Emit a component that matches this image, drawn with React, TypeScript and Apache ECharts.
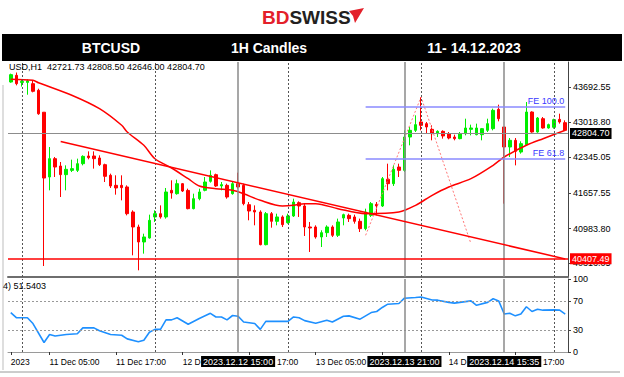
import React, { useEffect, useRef } from 'react';
import * as echarts from 'echarts';

// ---- candle data (H1 bars, first bar 10 Dec 22:00) ----
const opens = [43788,43916,43780,43780,43756,43630,43210,41970,42321,42180,
 42015,42097,42097,42225,42372,42372,42334,42206,42002,41810,
 41810,41779,41300,41013,40726,40803,41205,41268,41205,41715,
 41651,41842,41713,41364,41555,41715,41887,42015,41798,41810,
 41651,41842,41810,41440,41332,41300,40675,41268,41122,41205,
 41096,41224,41479,41415,41013,41013,40822,40905,41013,40854,
 41185,41236,41205,41122,40981,41236,41447,41415,41926,41842,
 42161,42097,42735,42863,43023,42991,42882,42799,42844,42799,
 42735,42704,42799,42882,42780,42780,42863,42895,43265,42927,
 42544,42672,42448,42589,43214,42831,43086,42908,42921,43073,
 43010];
const closes = [43929,43756,43800,43810,43610,43180,41950,42321,42161,42015,
 42117,42130,42225,42365,42340,42321,42206,41983,41798,41760,
 41766,41268,41013,40726,40822,41141,41268,41205,41683,41664,
 41842,41702,41364,41555,41683,41874,42002,41798,41824,41587,
 41842,41779,41460,41319,41300,40675,41268,41122,41205,41058,
 41224,41491,41415,41013,40994,40822,40905,41013,40854,41109,
 41249,41173,41122,40981,41300,41460,41415,41938,41842,42117,
 42097,42735,42863,42972,42959,42927,42799,42844,42755,42716,
 42704,42799,42908,42908,42908,42895,42991,43246,43086,42544,
 42672,42461,42608,43214,42831,43099,42908,42972,43067,43023,
 42863];
const lows = [43775,43724,43700,43545,43590,43160,40266,41715,41970,41587,
 41715,42065,42065,42193,42308,42130,42180,41874,41760,41632,
 41523,41236,40471,40184,40503,40790,41109,41173,41173,41555,
 41632,41683,41351,41351,41524,41696,41862,41779,41715,41555,
 41632,41747,41428,41141,41045,40662,40662,41000,41045,41013,
 41077,41205,41205,40841,40535,40790,40630,40822,40822,40822,
 41045,41109,41077,40917,40949,41205,41236,41396,41715,41798,
 41970,42065,42576,42831,42863,42799,42672,42735,42704,42691,
 42672,42691,42767,42767,42767,42672,42831,42863,43035,41460,
 42352,42193,42417,42576,42818,42818,42895,42895,42895,42991,
 42850];
const highs = [43948,43970,43830,43840,43820,43660,43210,42544,42353,42257,
 42193,42302,42321,42385,42461,42461,42385,42225,42034,42002,
 42002,41810,41332,41058,40885,41249,41332,41427,41760,41906,
 41919,41855,41747,41651,41747,41970,42097,42034,41874,41842,
 41874,42053,41842,41491,41427,41332,41300,41300,41268,41236,
 41268,41555,41504,41460,41109,41045,40950,41045,41045,41173,
 41268,41268,41249,41173,41364,41491,41491,41970,42225,42193,
 42225,42863,42927,43150,43501,43023,42959,42863,42863,42831,
 42780,42831,43086,42972,42991,42908,43086,43278,43354,42927,
 42716,42716,42653,43405,43227,43118,43118,42991,43086,43182,
 43054];

// moving average (read at sample bars)
const maIdx = [0,4,5,11,16,20,21,24,26,29,32,34,37,40,42,45,49,51,53,55,59,64,70,73,76,79,83,87,89,93,96,100];
const maVal = [43840,43821,43775,43534,43277,42960,42831,42577,42320,42142,41937,41798,41746,41716,41650,41524,41415,41428,41459,41459,41363,41268,41300,41428,41620,41779,41938,42194,42353,42577,42703,42864];

// RSI (read at sample bars)
const rsiIdx = [0,1,3,4,6,7,8,10,12,13,15,16,18,20,21,23,24,25,26,27,28,29,30,32,34,36,37,38,39,40,41,42,44,45,46,48,50,51,52,53,55,57,58,60,61,63,65,66,67,68,70,71,73,74,76,77,79,80,82,83,84,86,87,88,89,90,91,92,93,94,95,96,98,99,100];
const rsiVal = [54,47,47,39,13,24,22,24,25,33,33,29,24,23,18,14,16,27,31,31,44,44,47,38,46,53,48,48,44,50,49,41,39,31,42,42,42,48,47,43,39.5,43.6,41,49,49.5,45,54,55.5,61,65.5,66.4,73.7,74.6,75.4,71.3,71,68,67,69,70,64,68,73,70,52,53,49.5,52,62,55.5,58.6,57.3,57.7,57.3,52];

// axes / annotations
const priceTicks = [43692.55, 43018.80, 42345.05, 41657.55, 40983.80, 40316.05];
const rsiTicks = [0, 30, 70, 100];
const rsiLevels = [70, 30];
const xTickIdx = [0, 7, 19, 31, 43, 55, 67, 79, 91];
const xLabelIdx = [0, 7, 19, 31, 48, 55, 79, 96];
const xLabelText = ['2023', '11 Dec 05:00', '11 Dec 17:00', '12 D', '17:00', '13 Dec 05:00', '14 D', '17:00'];
const gridIdx = [2, 26, 50, 74, 98];
const markerIdx = [41, 71, 89];
const markerText = ['2023.12.12 15:00', '2023.12.13 21:00', '2023.12.14 15:35'];
const bidPrice = 42804.70;
const supportPrice = 40407.49;
const trendIdx = [9, 100];
const trendVal = [42649, 40402];
const feIdx = [64, 74, 83];
const feVal = [40854, 43501, 40693];
const feLevels = [43323, 42320];
const feLabels = ['FE 100.0', 'FE 61.8'];
const headerTexts = ['BTCUSD', '1H Candles', '11- 14.12.2023'];
const infoText = 'USD,H1  42721.73 42808.50 42646.00 42804.70';
const rsiInfo = '4) 51.5403';

const FONT = '"Liberation Sans", Arial, sans-serif';

function pad(n: number) { return n < 10 ? '0' + n : '' + n; }

export default function App() {
  const ref = useRef<HTMLDivElement>(null);
  useEffect(() => {
    const chart = echarts.init(ref.current!, null, { renderer: 'svg' });
    const start = Date.UTC(2023, 11, 10, 22);
    const categories = opens.map((_, i) => {
      const d = new Date(start + i * 3600000);
      return `${d.getUTCFullYear()}.${pad(d.getUTCMonth() + 1)}.${pad(d.getUTCDate())} ${pad(d.getUTCHours())}:00`;
    });
    const labelMap: Record<number, string> = {};
    xLabelIdx.forEach((ix, k) => { labelMap[ix] = xLabelText[k]; });
    const candles = opens.map((o, i) => [o, closes[i], lows[i], highs[i]]);

    const dotted = { type: [2, 2] as any, color: '#555', width: 1 };
    const gridLines = gridIdx.map((ix) => ({ xAxis: ix, lineStyle: dotted, label: { show: false } }));
    const markerLinesMain = markerIdx.map((ix) => ({ xAxis: ix, lineStyle: { color: '#8a8a8a', width: 1.5, type: 'solid' }, label: { show: false } }));
    const markerLinesRsi = markerIdx.map((ix, k) => ({
      xAxis: ix,
      lineStyle: { color: '#8a8a8a', width: 1.5, type: 'solid' },
      label: {
        show: true, position: 'start', formatter: markerText[k], distance: 4,
        backgroundColor: '#000', color: '#fff', padding: [1, 2, 1, 2], fontSize: 9, lineHeight: 9, fontFamily: FONT,
      },
    }));

    const option: any = {
      animation: false,
      textStyle: { fontFamily: FONT },
      grid: [
        { left: 8, right: 56, top: 62, height: 215 },
        { left: 8, right: 56, top: 279, height: 73 },
      ],
      xAxis: [
        {
          type: 'category', gridIndex: 0, data: categories, boundaryGap: true,
          axisLabel: { show: false }, axisTick: { show: false },
          axisLine: { show: true, lineStyle: { color: '#6e6e6e', width: 2 } },
          splitLine: { show: false },
        },
        {
          type: 'category', gridIndex: 1, data: categories, boundaryGap: true,
          axisLine: { show: true, lineStyle: { color: '#9a9a9a', width: 1 } },
          axisTick: { show: true, alignWithLabel: true, length: 3, interval: (i: number) => xTickIdx.indexOf(i) >= 0, lineStyle: { color: '#333' } },
          axisLabel: {
            show: true, interval: (i: number) => labelMap[i] !== undefined,
            formatter: (_v: string, i: number) => labelMap[i] || '',
            align: 'left', fontSize: 8.5, color: '#000', margin: 5, fontFamily: FONT,
          },
          splitLine: { show: false },
        },
      ],
      yAxis: [
        {
          type: 'value', gridIndex: 0, position: 'right', min: 40056, max: 44171,
          splitLine: { show: false },
          axisLine: { show: true, lineStyle: { color: '#444', width: 1 } },
          axisTick: { show: true, length: 3, customValues: priceTicks, lineStyle: { color: '#444' } },
          axisLabel: { customValues: priceTicks, formatter: (v: number) => v.toFixed(2), fontSize: 9, color: '#000', margin: 5, fontFamily: FONT },
        },
        {
          type: 'value', gridIndex: 1, position: 'right', min: 0, max: 100,
          splitLine: { show: false },
          axisLine: { show: true, lineStyle: { color: '#444', width: 1 } },
          axisTick: { show: true, length: 3, customValues: rsiTicks, lineStyle: { color: '#444' } },
          axisLabel: { customValues: rsiTicks, formatter: (v: number) => String(v), fontSize: 9, color: '#000', margin: 5, fontFamily: FONT },
        },
      ],
      series: [
        {
          type: 'candlestick', xAxisIndex: 0, yAxisIndex: 0, data: candles, barWidth: 3, clip: false,
          itemStyle: { color: '#00ee00', color0: '#ff0000', borderColor: '#00ee00', borderColor0: '#ff0000', borderWidth: 1 },
          markLine: {
            silent: true, symbol: ['none', 'none'], animation: false,
            data: [
              ...gridLines,
              ...markerLinesMain,
              {
                yAxis: bidPrice, lineStyle: { color: '#8c8c8c', width: 1, type: 'solid' },
                label: { show: true, position: 'end', formatter: bidPrice.toFixed(2), distance: 2, backgroundColor: '#000', color: '#fff', padding: [1, 2, 1, 2], fontSize: 9, lineHeight: 9, fontFamily: FONT },
              },
              {
                yAxis: supportPrice, lineStyle: { color: '#ff0000', width: 1.5, type: 'solid' },
                label: { show: true, position: 'end', formatter: supportPrice.toFixed(2), distance: 2, backgroundColor: '#ff0000', color: '#fff', padding: [1, 2, 1, 2], fontSize: 9, lineHeight: 9, fontFamily: FONT },
              },
              [
                { coord: [trendIdx[0], trendVal[0]], lineStyle: { color: '#ff0000', width: 1.5, type: 'solid' }, label: { show: false } },
                { coord: [trendIdx[1], trendVal[1]] },
              ],
              ...feLevels.map((lv, k) => [
                {
                  coord: [feIdx[0], lv], lineStyle: { color: '#8a8aff', width: 1.5, type: 'solid' },
                  label: { show: true, position: 'insideEndTop', formatter: feLabels[k], color: '#3a3aff', fontSize: 9, distance: 1, fontFamily: FONT },
                },
                { coord: [trendIdx[1], lv] },
              ]),
            ],
          },
        },
        {
          type: 'line', xAxisIndex: 0, yAxisIndex: 0, data: maIdx.map((x, k) => [x, maVal[k]]),
          showSymbol: false, smooth: 0.3, lineStyle: { color: '#ff0000', width: 1.5 }, silent: true,
        },
        {
          type: 'line', xAxisIndex: 0, yAxisIndex: 0, data: feIdx.map((x, k) => [x, feVal[k]]),
          showSymbol: false, lineStyle: { color: '#ff7777', width: 1, type: [2, 2] }, silent: true,
        },
        {
          type: 'line', xAxisIndex: 1, yAxisIndex: 1, data: rsiIdx.map((x, k) => [x, rsiVal[k]]), clip: false,
          showSymbol: false, lineStyle: { color: '#1e90ff', width: 1.6 }, silent: true,
          markLine: {
            silent: true, symbol: ['none', 'none'], animation: false,
            data: [
              ...rsiLevels.map((lv) => ({ yAxis: lv, lineStyle: { color: '#999', width: 1, type: [2, 2] }, label: { show: false } })),
              ...gridIdx.map((ix) => ({ xAxis: ix, lineStyle: dotted, label: { show: false } })),
              ...markerLinesRsi,
            ],
          },
        },
      ],
      graphic: [
        {
          type: 'text', x: 262, y: 17, z: 10,
          style: {
            text: '{a|BD}{b|SWISS}', verticalAlign: 'middle',
            rich: {
              a: { fill: '#e3202a', fontSize: 19, fontWeight: 'bold', fontFamily: FONT },
              b: { fill: '#231f20', fontSize: 19, fontWeight: 'bold', fontFamily: FONT },
            },
          },
        },
        { type: 'polygon', z: 10, shape: { points: [[349, 11], [364, 8], [355, 23], [353, 16]] }, style: { fill: '#e3202a' } },
        { type: 'rect', z: 10, shape: { x: 2, y: 34, width: 620, height: 27 }, style: { fill: '#000' } },
        ...headerTexts.map((t, k) => ({
          type: 'text', z: 11, x: [111, 269, 474][k], y: 48,
          style: { text: t, fill: '#fff', font: `bold 14px ${FONT}`, align: 'center', verticalAlign: 'middle' },
        })),
        { type: 'text', z: 11, x: 9, y: 67, style: { text: infoText, fill: '#000', font: `9px ${FONT}`, verticalAlign: 'middle' } },
        { type: 'text', z: 11, x: 3, y: 286, style: { text: rsiInfo, fill: '#000', font: `9px ${FONT}`, verticalAlign: 'middle' } },
        { type: 'line', z: 1, shape: { x1: 0, y1: 372, x2: 620, y2: 372 }, style: { stroke: '#9a9a9a', lineWidth: 1 } },
        { type: 'line', z: 1, shape: { x1: 3, y1: 85, x2: 3, y2: 370 }, style: { stroke: '#bdbdbd', lineWidth: 1 } },
      ],
    };
    chart.setOption(option);
    return () => chart.dispose();
  }, []);
  return <div ref={ref} style={{ position: 'fixed', left: 0, top: 0, width: 624, height: 377, background: '#fff' }} />;
}
